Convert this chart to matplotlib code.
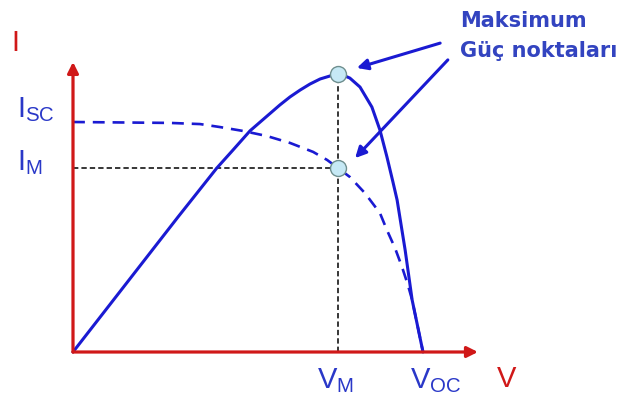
import numpy as np
import matplotlib
matplotlib.use("Agg")
import matplotlib.pyplot as plt

## Fonts: Arial-like look, mathtext only for the subscripts
plt.rcParams['font.family'] = ['Liberation Sans', 'DejaVu Sans']
plt.rcParams['mathtext.fontset'] = 'custom'
plt.rcParams['mathtext.rm'] = 'Liberation Sans'
plt.rcParams['mathtext.it'] = 'Liberation Sans'

## Curves (V normalised to V_OC = 1, I normalised to I_SC = 1)
iv_v = [0.0, 0.277, 0.363, 0.42, 0.486, 0.554, 0.62, 0.686, 0.726, 0.757, 0.791,
        0.834, 0.877, 0.897, 0.92, 0.94, 0.957, 0.969, 1.0]
iv_i = [1.0, 0.996, 0.991, 0.978, 0.961, 0.939, 0.909, 0.87, 0.835, 0.80, 0.761,
        0.691, 0.604, 0.53, 0.452, 0.37, 0.291, 0.226, 0.0]

pv_v = [0.0, 0.3, 0.411, 0.457, 0.506, 0.591, 0.62, 0.649, 0.677, 0.706, 0.734, 0.757, 0.771,
        0.791, 0.82, 0.854, 0.877, 0.897, 0.914, 0.926, 0.949, 0.969, 1.0]
pv_p = [0.0, 0.587, 0.80, 0.878, 0.962, 1.074, 1.109, 1.139, 1.165, 1.187, 1.20, 1.209, 1.204,
        1.191, 1.152, 1.065, 0.965, 0.848, 0.74, 0.661, 0.443, 0.226, 0.0]

v_m = 0.757
i_m = 0.80
p_max = 1.209

red = '#d01818'
blue = '#1a1ad2'
label_blue = '#2a38c8'

fig = plt.figure(figsize=(6.27, 4.12), dpi=100)
ax = fig.add_axes([0, 0, 1, 1])
ax.set_xlim(-73 / 350, (627 - 73) / 350)
ax.set_ylim((352 - 412) / 230, 352 / 230)
ax.axis('off')

## guide lines to the maximum power point
ax.plot([0, v_m], [i_m, i_m], color='black', lw=1.1, ls=(0, (3.5, 2)), zorder=2)
ax.plot([v_m, v_m], [0, p_max], color='black', lw=1.1, ls=(0, (3.5, 2)), zorder=2)

## I-V (dashed) and P-V (solid) curves
ax.plot(iv_v, iv_i, color=blue, lw=1.9, ls=(0, (4.5, 3)), zorder=3)
ax.plot(pv_v, pv_p, color=blue, lw=2.2, zorder=3, solid_capstyle='round', solid_joinstyle='round')

## red axes with arrow heads
ax.annotate('', xy=(0, 1.261), xytext=(0, 0),
            arrowprops=dict(arrowstyle='-|>', color=red, lw=2.3, mutation_scale=16, shrinkA=0, shrinkB=0), zorder=4)
ax.annotate('', xy=(1.157, 0), xytext=(0, 0),
            arrowprops=dict(arrowstyle='-|>', color=red, lw=2.3, mutation_scale=16, shrinkA=0, shrinkB=0), zorder=4)

## maximum power points
ax.plot([v_m, v_m], [p_max, i_m], ls='none', marker='o', ms=11.5,
        mfc='#c6e9f5', mec='#6f8f8f', mew=1.0, zorder=5)

## axis labels
ax.text(-0.166, 1.343, 'I', color=red, fontsize=21, ha='center', va='center')
ax.text(1.211, -0.152, 'V', color=red, fontsize=21, ha='left', va='baseline')

ax.text(-0.16, 1.022, r'I$_{\mathrm{SC}}$', color=label_blue, fontsize=21, ha='left', va='baseline')
ax.text(-0.16, 0.791, r'I$_{\mathrm{M}}$', color=label_blue, fontsize=21, ha='left', va='baseline')
ax.text(0.697, -0.157, r'V$_{\mathrm{M}}$', color=label_blue, fontsize=21, ha='left', va='baseline')
ax.text(0.963, -0.157, r'V$_{\mathrm{OC}}$', color=label_blue, fontsize=21, ha='left', va='baseline')

## annotation
note_font = dict(color='#3344c0', fontsize=15, fontweight='bold', family='DejaVu Sans',
                 ha='left', va='baseline')
ax.text(1.106, 1.413, 'Maksimum', **note_font)
ax.text(1.106, 1.283, 'Güç noktaları', **note_font)

ax.annotate('', xy=(0.811, 1.235), xytext=(1.049, 1.343),
            arrowprops=dict(arrowstyle='-|>', color=blue, lw=2.2, mutation_scale=16, shrinkA=0, shrinkB=0), zorder=6)
ax.annotate('', xy=(0.806, 0.843), xytext=(1.071, 1.27),
            arrowprops=dict(arrowstyle='-|>', color=blue, lw=2.2, mutation_scale=16, shrinkA=0, shrinkB=0), zorder=6)

fig.savefig('out.png', dpi=100)
